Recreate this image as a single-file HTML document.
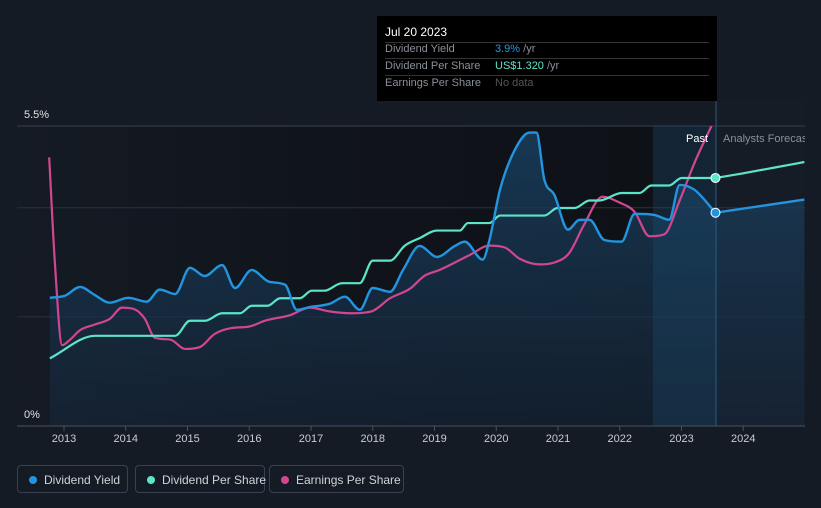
<!DOCTYPE html>
<html><head><meta charset="utf-8"><style>
body{margin:0;background:#151b24;font-family:"Liberation Sans",sans-serif;}
svg{display:block}
.leg{position:absolute;top:465px;height:28px;border:1px solid #394050;border-radius:4px;color:#d0d4da;font-size:12px;line-height:28px;box-sizing:border-box;padding-left:26px;white-space:nowrap}
.leg i{position:absolute;left:11px;top:10px;width:8px;height:8px;border-radius:50%}
</style></head><body>
<div style="position:relative;width:821px;height:508px;overflow:hidden">
<svg id="c" width="821" height="508"></svg>
<div class="leg" style="left:17px;width:111px"><i style="background:#2394df"></i>Dividend Yield</div>
<div class="leg" style="left:135px;width:130px"><i style="background:#5ce5c9"></i>Dividend Per Share</div>
<div class="leg" style="left:269px;width:135px"><i style="background:#d1478f"></i>Earnings Per Share</div>
<div style="position:absolute;left:377px;top:16px;width:340px;height:85px;background:#000;font-size:11px;color:#8a9099">
<div style="position:absolute;left:8px;top:9px;color:#fff;font-size:12px">Jul 20 2023</div>
<div style="position:absolute;left:8px;right:8px;top:26px;border-top:1px solid #333"></div>
<div style="position:absolute;left:8px;top:27px">Dividend Yield</div><div style="position:absolute;left:118px;top:27px"><span style="color:#2394df">3.9%</span> /yr</div>
<div style="position:absolute;left:8px;right:8px;top:42px;border-top:1px solid #333"></div>
<div style="position:absolute;left:8px;top:44px">Dividend Per Share</div><div style="position:absolute;left:118px;top:44px"><span style="color:#5ce5c9">US$1.320</span> /yr</div>
<div style="position:absolute;left:8px;right:8px;top:59px;border-top:1px solid #333"></div>
<div style="position:absolute;left:8px;top:61px">Earnings Per Share</div><div style="position:absolute;left:118px;top:61px;color:#555">No data</div>
</div>
</div>
<script>
const yieldYears=[2012.77,2013.02,2013.26,2013.50,2013.74,2014.04,2014.34,2014.55,2014.80,2015.04,2015.28,2015.56,2015.77,2016.04,2016.33,2016.58,2016.77,2016.98,2017.30,2017.55,2017.79,2018.00,2018.28,2018.49,2018.76,2019.04,2019.33,2019.49,2019.78,2019.89,2020.06,2020.30,2020.54,2020.65,2020.78,2020.94,2021.16,2021.35,2021.51,2021.75,2022.03,2022.24,2022.56,2022.80,2022.97,2023.21,2023.55];
const yieldValues=[2.35,2.39,2.55,2.40,2.26,2.35,2.28,2.50,2.42,2.90,2.75,2.95,2.53,2.86,2.64,2.59,2.13,2.18,2.24,2.37,2.13,2.53,2.46,2.86,3.30,3.10,3.30,3.38,3.05,3.41,4.33,5.06,5.38,5.38,4.51,4.24,3.60,3.78,3.78,3.41,3.38,3.89,3.87,3.78,4.42,4.33,3.91];
const yieldForecastYears=[2023.55,2024.99];
const yieldForecastValues=[3.91,4.15];
const dpsYears=[2012.77,2013.50,2014.80,2015.04,2015.28,2015.56,2015.85,2016.04,2016.30,2016.50,2016.82,2017.01,2017.22,2017.50,2017.79,2018.00,2018.28,2018.52,2018.76,2019.04,2019.41,2019.54,2019.89,2020.06,2020.78,2020.99,2021.27,2021.51,2021.67,2022.03,2022.32,2022.51,2022.80,2023.00,2023.55];
const dpsValues=[0.36,0.48,0.48,0.56,0.56,0.60,0.60,0.64,0.64,0.68,0.68,0.72,0.72,0.76,0.76,0.88,0.88,0.96,1.00,1.04,1.04,1.08,1.08,1.12,1.12,1.16,1.16,1.20,1.20,1.24,1.24,1.28,1.28,1.32,1.32];
const dpsForecastYears=[2023.55,2024.0,2024.5,2024.99];
const dpsForecastValues=[1.32,1.345,1.375,1.405];
const epsYears=[2012.76,2012.85,2012.97,2013.10,2013.26,2013.50,2013.74,2013.94,2014.15,2014.31,2014.47,2014.72,2014.96,2015.20,2015.44,2015.69,2016.01,2016.25,2016.66,2016.98,2017.30,2017.63,2017.98,2018.28,2018.60,2018.84,2019.08,2019.33,2019.57,2019.89,2020.14,2020.38,2020.70,2020.94,2021.18,2021.42,2021.72,2021.99,2022.24,2022.48,2022.72,2022.97,2023.21,2023.49];
const epsValues=[1.43,0.88,0.43,0.46,0.51,0.54,0.57,0.63,0.62,0.57,0.47,0.46,0.41,0.42,0.49,0.52,0.53,0.56,0.59,0.63,0.61,0.60,0.61,0.68,0.73,0.80,0.83,0.87,0.91,0.96,0.95,0.89,0.86,0.87,0.92,1.07,1.22,1.19,1.14,1.01,1.02,1.20,1.40,1.60];
const xTicks=[2013,2014,2015,2016,2017,2018,2019,2020,2021,2022,2023,2024];
const yLabels=["0%","5.5%"];

const NS="http://www.w3.org/2000/svg",svg=document.getElementById('c');
const X=t=>64+(t-2013)*61.75, Y=p=>426-p*54.55, Yd=v=>426-v*187.9;
function el(tag,a,p){const e=document.createElementNS(NS,tag);for(const k in a)e.setAttribute(k,a[k]);(p||svg).appendChild(e);return e;}
function smooth(pts){const n=pts.length;let d=`M${pts[0][0]},${pts[0][1]}`;if(n<2)return d;
const s=[];for(let i=0;i<n-1;i++)s.push((pts[i+1][1]-pts[i][1])/(pts[i+1][0]-pts[i][0]));
const m=[s[0]];for(let i=1;i<n-1;i++)m.push(s[i-1]*s[i]<=0?0:(s[i-1]+s[i])/2);m.push(s[n-2]);
for(let i=0;i<n-1;i++){if(s[i]===0){m[i]=0;m[i+1]=0;}else{const a=m[i]/s[i],b=m[i+1]/s[i],h=a*a+b*b;if(h>9){const t=3/Math.sqrt(h);m[i]=t*a*s[i];m[i+1]=t*b*s[i];}}}
for(let i=0;i<n-1;i++){const dx=(pts[i+1][0]-pts[i][0])/3;d+=` C${pts[i][0]+dx},${pts[i][1]+m[i]*dx} ${pts[i+1][0]-dx},${pts[i+1][1]-m[i+1]*dx} ${pts[i+1][0]},${pts[i+1][1]}`;}return d;}
const defs=el('defs',{});
defs.innerHTML='<linearGradient id="bg" x1="0" x2="1"><stop offset="0" stop-color="#151b24"/><stop offset="0.45" stop-color="#10141b"/><stop offset="1" stop-color="#0e1116"/></linearGradient><linearGradient id="ar" x1="0" y1="0" x2="0" y2="1"><stop offset="0" stop-color="#1a4466" stop-opacity="0.75"/><stop offset="1" stop-color="#15263a" stop-opacity="0.6"/></linearGradient><clipPath id="cp"><rect x="17" y="126" width="790" height="300"/></clipPath>';
const bgRect=el('rect',{x:17,y:126,width:699,height:300,fill:'url(#bg)'});


const fcRect=el('rect',{x:716,y:101,width:89,height:325,fill:'#161c26'});


[2,4].forEach(v=>{const gl=el('line',{x1:17,x2:805,y1:Y(v),y2:Y(v),stroke:'#2b323d'});

});
const topLine=el('line',{x1:17,x2:805,y1:126,y2:126,stroke:'#3a414c'});


const yp=yieldYears.map((t,i)=>[X(t),Y(yieldValues[i])]);
const ypf=yieldForecastYears.map((t,i)=>[X(t),Y(yieldForecastValues[i])]);
const areaPath=el('path',{d:smooth(yp)+` L${ypf[1][0]},${ypf[1][1]} L${ypf[1][0]},426 L${yp[0][0]},426Z`,fill:'url(#ar)'});


const band=el('rect',{x:653,y:126,width:63,height:300,fill:'#1d4a6e',opacity:0.35});


const axisLine=el('line',{x1:17,x2:805,y1:426,y2:426,stroke:'#4a515c'});


const cursorLine=el('line',{x1:716,x2:716,y1:101,y2:426,stroke:'#2a5a80'});


xTicks.forEach(t=>{const tk=el('line',{x1:X(t),x2:X(t),y1:426,y2:431,stroke:'#4a515c'});


const tx=el('text',{x:X(t),y:442,'text-anchor':'middle',fill:'#c9ccd1','font-size':11});tx.textContent=t;

});
[[yLabels[1],118],[yLabels[0],418]].forEach(([s,yy])=>{const tx=el('text',{x:24,y:yy,fill:'#e0e2e5','font-size':11});tx.textContent=s;

});
const clipG=el('g',{'clip-path':'url(#cp)'});
const epsLine=el('path',{d:smooth(epsYears.map((t,i)=>[X(t),Yd(epsValues[i])])),fill:'none',stroke:'#d1478f','stroke-width':2.2},clipG);


const dpsLine=el('path',{d:smooth(dpsYears.map((t,i)=>[X(t),Yd(dpsValues[i])])),fill:'none',stroke:'#5ce5c9','stroke-width':2.2},clipG);


const dpsF=el('path',{d:smooth(dpsForecastYears.map((t,i)=>[X(t),Yd(dpsForecastValues[i])])),fill:'none',stroke:'#5ce5c9','stroke-width':2.2},clipG);


const yieldLine=el('path',{d:smooth(yp),fill:'none',stroke:'#2394df','stroke-width':2.4},clipG);


const yieldF=el('path',{d:smooth(ypf),fill:'none',stroke:'#2394df','stroke-width':2.4},clipG);


const m1=el('circle',{cx:X(dpsYears[dpsYears.length-1]),cy:Yd(dpsValues[dpsValues.length-1]),r:4.5,fill:'#5ce5c9',stroke:'#fff','stroke-width':1});


const m2=el('circle',{cx:X(yieldYears[yieldYears.length-1]),cy:Y(yieldValues[yieldValues.length-1]),r:4.5,fill:'#2394df',stroke:'#fff','stroke-width':1});


const pastT=el('text',{x:708,y:142,'text-anchor':'end',fill:'#fff','font-size':11});pastT.textContent='Past';


const fT=el('text',{x:723,y:142,fill:'#8a9099','font-size':11});fT.textContent='Analysts Forecasts';


const cover=el('rect',{x:805,y:100,width:16,height:340,fill:'#151b24'});


</script></body></html>
